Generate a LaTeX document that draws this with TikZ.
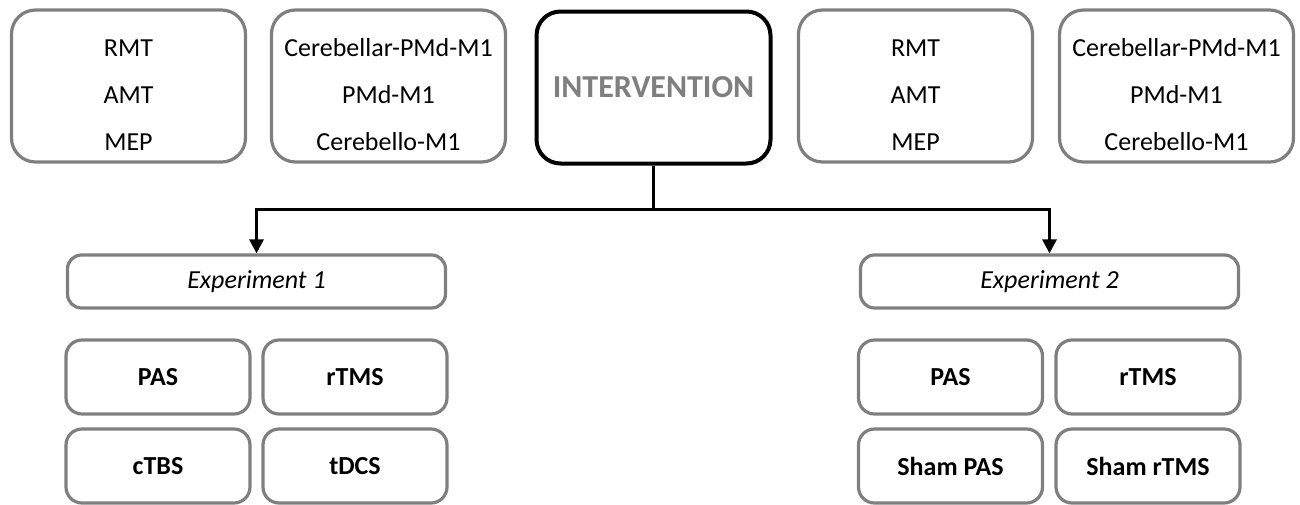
\documentclass[tikz,border=0pt]{standalone}
\usepackage{fontspec}
\setmainfont{Carlito}
\usetikzlibrary{arrows.meta,positioning}
\definecolor{boxgray}{HTML}{7F7F7F}
\newcommand{\toppad}{\rule{0pt}{17.5pt}}

\begin{document}
\begin{tikzpicture}[x=0.5pt,y=-0.5pt,
	topbox/.style={draw=boxgray, line width=1.6pt, rounded corners=12pt, align=center,
		minimum width=117pt, minimum height=76pt, inner sep=0pt,
		font=\fontsize{13}{23.5}\selectfont},
	expbox/.style={draw=boxgray, line width=1.6pt, rounded corners=7pt,
		minimum width=189pt, minimum height=26.5pt, inner sep=0pt,
		font=\fontsize{13}{15}\selectfont\itshape},
	methbox/.style={draw=boxgray, line width=1.6pt, rounded corners=8pt,
		minimum width=92pt, minimum height=37pt, inner sep=0pt,
		font=\fontsize{13}{15}\selectfont\bfseries},
	link/.style={line width=1.5pt, -{Triangle[length=7pt,width=7pt]}}]
	\useasboundingbox (0,0) rectangle (1300,504);
	% baseline measures
	\node[topbox] (base1) at (128.5,86) {\toppad RMT\\AMT\\MEP};
	\node[topbox] (conn1) at (388.5,86) {\toppad Cerebellar-PMd-M1\\PMd-M1\\Cerebello-M1};
	\node[topbox, draw=black, line width=2pt, text=boxgray,
		font=\fontsize{16}{18}\selectfont\bfseries] (interv) at (653.5,87.5) {INTERVENTION};
	\node[topbox] (base2) at (915.5,86) {\toppad RMT\\AMT\\MEP};
	\node[topbox] (conn2) at (1176.5,86) {\toppad Cerebellar-PMd-M1\\PMd-M1\\Cerebello-M1};
	% experiments
	\node[expbox] (exp1) at (256.5,281.5) {Experiment 1};
	\node[expbox] (exp2) at (1049.5,281.5) {Experiment 2};
	\node[methbox] (pas1) at (158,377) {PAS};
	\node[methbox] (rtms1) at (355,377) {rTMS};
	\node[methbox] (ctbs) at (158,466) {cTBS};
	\node[methbox] (tdcs) at (355,466) {tDCS};
	\node[methbox] (pas2) at (950.5,377) {PAS};
	\node[methbox] (rtms2) at (1148,377) {rTMS};
	\node[methbox] (shampas) at (950.5,466) {Sham PAS};
	\node[methbox] (shamrtms) at (1148,466) {Sham rTMS};
	% connectors
	\coordinate (split) at (653.5,209);
	\draw[line width=1.5pt] (interv) -- (split);
	\draw[link] (split) -| (exp1.north);
	\draw[link] (split) -| (exp2.north);
\end{tikzpicture}
\end{document}
